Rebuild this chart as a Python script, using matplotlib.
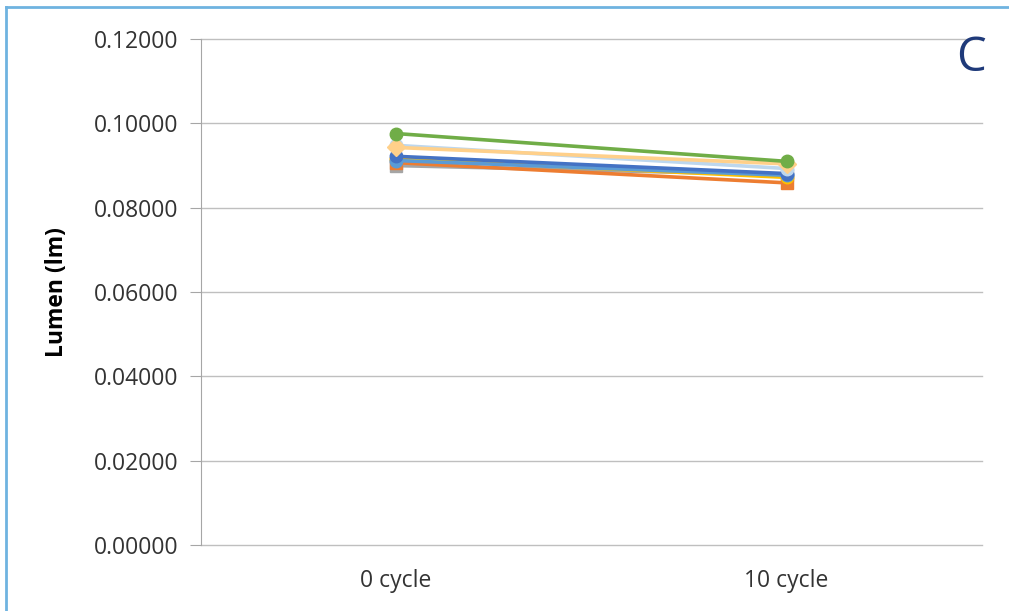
import matplotlib.pyplot as plt
from matplotlib.lines import Line2D

categories = ["0 cycle", "10 cycle"]

s_blue = [0.0912, 0.0877]
s_orange = [0.0907, 0.0859]
s_gray = [0.0900, 0.0878]
s_yellow = [0.0916, 0.0872]
s_lightblue = [0.0948, 0.0893]
s_darkblue = [0.0922, 0.0881]
s_peach = [0.0943, 0.0904]
s_green = [0.0976, 0.0910]

series = [
    (s_gray, "#A5A5A5", "s"),
    (s_orange, "#ED7D31", "s"),
    (s_yellow, "#FFC000", "o"),
    (s_blue, "#5B9BD5", "o"),
    (s_darkblue, "#4472C4", "o"),
    (s_lightblue, "#BDD7EE", "o"),
    (s_peach, "#FFD08A", "D"),
    (s_green, "#70AD47", "o"),
]

plt.rcParams['font.family'] = ['Open Sans', 'DejaVu Sans']

fig = plt.figure(figsize=(10.09, 6.11), dpi=100)
ax = fig.add_axes([0.199, 0.108, 0.774, 0.828])

x = list(range(len(categories)))
for vals, col, mk in series:
    ax.plot(x, vals, color=col, lw=2.6, marker=mk, markersize=9, zorder=3)

ax.set_xlim(-0.5, 1.5)
ax.set_ylim(0, 0.12)
ax.set_yticks([0, 0.02, 0.04, 0.06, 0.08, 0.10, 0.12])
ax.set_yticklabels([f"{v:.5f}" for v in ax.get_yticks()], fontsize=16.5, color="#333333")
ax.set_xticks(x)
ax.set_xticklabels(categories, fontsize=16.5, color="#333333")
ax.grid(axis="y", color="#BFBFBF", lw=1)
for gl in ax.get_ygridlines():
    gl.set_clip_on(False)
ax.set_axisbelow(True)
for side in ["top", "right", "bottom"]:
    ax.spines[side].set_visible(False)
ax.spines["left"].set_color("#A6A6A6")
ax.tick_params(axis="y", length=8, color="#A6A6A6", pad=8)
ax.tick_params(axis="x", length=0, pad=17)
ax.set_ylabel("Lumen (lm)", fontsize=16.5, fontweight="bold", labelpad=18)

fig.text(0.962, 0.905, "C", fontsize=34, color="#1F3A7A", ha="center", va="center")

# light blue frame on left and top
fig.add_artist(Line2D([0.006, 0.006], [0, 0.988], transform=fig.transFigure, color="#6FB3E0", lw=2))
fig.add_artist(Line2D([0.006, 1.0], [0.988, 0.988], transform=fig.transFigure, color="#6FB3E0", lw=2))

fig.savefig("out.png", dpi=100)
